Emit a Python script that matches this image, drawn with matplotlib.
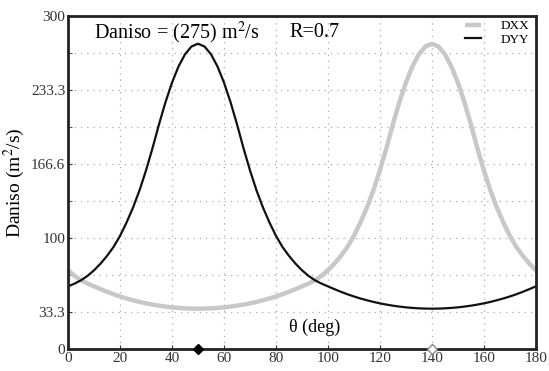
"""
Daniso vs theta, DXX / DYY curves
"""
import matplotlib.pyplot as plt
import numpy as np

plt.rcParams['font.family'] = ['Liberation Serif', 'DejaVu Serif']
plt.rcParams['mathtext.fontset'] = 'stix'

# data (theta every 2.5 deg)
theta = np.arange(0, 180.1, 2.5)
d_yy = [56.5, 59, 62, 66, 71, 77, 84, 92, 102, 114, 127.5, 143, 161, 181, 202.5,
        222.5, 240, 254.5, 265.5, 272.5, 275,
        272.5, 265.5, 254.5, 240, 222.5, 202.5, 181, 161, 143, 127.5, 114, 102, 92,
        84, 77, 71, 66, 62, 59, 56.5, 54, 51.6, 49.4, 47.4, 45.6, 44, 42.5, 41.2,
        40.1, 39.1, 38.3, 37.6, 37.1, 36.7, 36.5, 36.4,
        36.5, 36.7, 37.1, 37.6, 38.3, 39.1, 40.1, 41.2, 42.5, 44, 45.6, 47.4, 49.4,
        51.6, 54, 56.5]
d_xx = [71, 66, 62, 59, 56.5, 54, 51.6, 49.4, 47.4, 45.6, 44, 42.5, 41.2, 40.1,
        39.1, 38.3, 37.6, 37.1, 36.7, 36.5, 36.4,
        36.5, 36.7, 37.1, 37.6, 38.3, 39.1, 40.1, 41.2, 42.5, 44, 45.6, 47.4, 49.4,
        51.6, 54, 56.5, 59, 62, 66, 71, 77, 84, 92, 102, 114, 127.5, 143, 161, 181,
        202.5, 222.5, 240, 254.5, 265.5, 272.5, 275,
        272.5, 265.5, 254.5, 240, 222.5, 202.5, 181, 161, 143, 127.5, 114, 102, 92,
        84, 77, 71]
peak_yy = [50]
peak_xx = [140]

y_grid = [100 / 3 * k for k in range(1, 9)]
y_ticks = [0, 100 / 3, 100, 500 / 3, 700 / 3, 300]
y_labels = ['0', '33.3', '100', '166.6', '233.3', '300']
x_ticks = list(range(0, 181, 20))

fig = plt.figure(figsize=(5.49, 3.71), dpi=100)
ax = fig.add_axes([0.124, 0.059, 0.852, 0.898])

ax.plot(theta, d_xx, color='#c8c8c8', lw=3.2, label='DXX', solid_capstyle='butt')
ax.plot(theta, d_yy, color='#111111', lw=1.6, label='DYY')

# markers on the x axis at the peaks
ax.plot(peak_yy, [0] * len(peak_yy), 'D', ms=5, color='black', clip_on=False, zorder=5)
ax.plot(peak_xx, [0] * len(peak_xx), 'D', ms=5, mfc='white', mec='#888888',
        mew=1.0, clip_on=False, zorder=5)

ax.set_xlim(0, 180)
ax.set_ylim(0, 300)

# dotted grid
for y in y_grid:
    ax.axhline(y, color='#aaaaaa', lw=0.9, ls=(0, (1, 4)), zorder=0)
for x in x_ticks[1:-1]:
    ax.axvline(x, color='#aaaaaa', lw=0.9, ls=(0, (1, 4)), zorder=0)

ax.set_xticks(x_ticks)
ax.set_yticks(y_grid, minor=True)
ax.set_yticks(y_ticks)
ax.set_yticklabels(y_labels)
ax.tick_params(axis='both', which='both', direction='in', length=3, labelsize=11,
               colors='#333333', pad=2)
ax.tick_params(axis='y', which='minor', left=True)

for sp in ax.spines.values():
    sp.set_linewidth(2)
    sp.set_color('#222222')

ax.set_ylabel('Daniso (m$^2$/s)', fontsize=14, labelpad=3)
ax.text(95, 20, 'θ (deg)', ha='center', va='center', fontsize=13)
ax.text(10, 285, 'Daniso = (275) m$^2$/s', ha='left', va='center', fontsize=14.5)
ax.text(95, 285, 'R=0.7', ha='center', va='center', fontsize=14.5)

ax.legend(loc='upper right', frameon=False, fontsize=9.5, handlelength=1.2,
          borderaxespad=0.1, borderpad=0.2, labelspacing=0.1, handletextpad=1.5,
          bbox_to_anchor=(0.995, 1.0))

plt.savefig('out.png', dpi=100)
